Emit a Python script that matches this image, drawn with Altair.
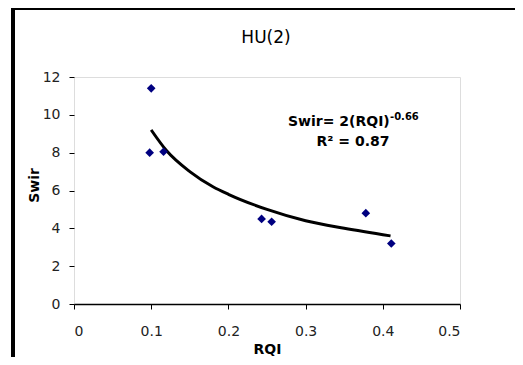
import altair as alt
import pandas as pd

# Measured points (RQI vs Swir)
rqi = [0.100, 0.098, 0.116, 0.243, 0.256, 0.378, 0.411]
swir = [11.4, 8.0, 8.05, 4.5, 4.35, 4.8, 3.2]

# Trend curve
trend_x = [0.100, 0.120, 0.150, 0.180, 0.200, 0.250, 0.300, 0.350, 0.410]
trend_y = [9.2, 8.1, 7.0, 6.2, 5.8, 5.0, 4.4, 4.0, 3.6]

x_ticks = [0, 0.1, 0.2, 0.3, 0.4, 0.5]
y_ticks = [0, 2, 4, 6, 8, 10, 12]

pts = pd.DataFrame({"RQI": rqi, "Swir": swir})
trend = pd.DataFrame({"RQI": trend_x, "Swir": trend_y})

FONT = "DejaVu Sans"

xscale = alt.Scale(domain=[0, 0.5], nice=False, zero=False)
yscale = alt.Scale(domain=[0, 12], nice=False)

xaxis = alt.Axis(values=x_ticks, format=".1~f", grid=False, domainColor="black",
                 domainWidth=1.5, tickColor="black", tickSize=5, labelPadding=15,
                 labelFontSize=14, labelColor="#222", labelFont=FONT, labelOverlap=False,
                 title="RQI", titleFont=FONT, titleFontSize=14, titleFontWeight="bold",
                 titleColor="black", titleY=49, titleBaseline="alphabetic")
yaxis = alt.Axis(values=y_ticks, grid=False, domain=False, tickColor="black",
                 tickSize=5, labelPadding=9, labelFontSize=14, labelColor="#222",
                 labelFont=FONT, labelOverlap=False, title="Swir", titleFont=FONT,
                 titleFontSize=14, titleFontWeight="bold", titleColor="black",
                 titleAngle=-90, titleX=-36, titleY=108, titleBaseline="alphabetic")

points = alt.Chart(pts).mark_point(shape="diamond", filled=True, size=75,
                                   color="#000080", opacity=1).encode(
    x=alt.X("RQI:Q", scale=xscale, axis=xaxis),
    y=alt.Y("Swir:Q", scale=yscale, axis=yaxis),
)

line = alt.Chart(trend).mark_line(color="black", strokeWidth=3,
                                  interpolate="monotone").encode(
    x=alt.X("RQI:Q", scale=xscale, axis=xaxis),
    y=alt.Y("Swir:Q", scale=yscale, axis=yaxis),
)

title = alt.Chart(pd.DataFrame({"t": ["HU(2)"]})).mark_text(
    font=FONT, fontSize=17, align="center", baseline="alphabetic",
    color="black").encode(text="t:N", x=alt.value(192), y=alt.value(-34))

eq_main = alt.Chart(pd.DataFrame({"t": ["Swir= 2(RQI)"]})).mark_text(
    font=FONT, fontSize=14, fontWeight="bold", align="left",
    baseline="alphabetic", color="black").encode(
    text="t:N", x=alt.value(214), y=alt.value(49))
eq_sup = alt.Chart(pd.DataFrame({"t": ["-0.66"]})).mark_text(
    font=FONT, fontSize=10, fontWeight="bold", align="left",
    baseline="alphabetic", color="black").encode(
    text="t:N", x=alt.value(316), y=alt.value(43))
eq_r2 = alt.Chart(pd.DataFrame({"t": ["R\u00b2 = 0.87"]})).mark_text(
    font=FONT, fontSize=14, fontWeight="bold", align="center",
    baseline="alphabetic", color="black").encode(
    text="t:N", x=alt.value(279), y=alt.value(69))

frame_left = alt.Chart(pd.DataFrame({"a": [0]})).mark_rule(
    color="black", strokeWidth=4).encode(
    x=alt.value(-61), y=alt.value(-71), y2=alt.value(300))
frame_top = alt.Chart(pd.DataFrame({"a": [0]})).mark_rule(
    color="black", strokeWidth=4).encode(
    x=alt.value(-63), x2=alt.value(460), y=alt.value(-69))

chart = alt.layer(line, points, title, eq_main, eq_sup, eq_r2, frame_left, frame_top).properties(
    width=386, height=227,
    autosize=alt.AutoSizeParams(type="none"),
    padding={"left": 66, "top": 69, "right": 55, "bottom": 53},
).configure_view(stroke="#808080", strokeWidth=2).configure(background="white")

chart.save("out.html", embed_options={"renderer": "svg", "actions": False})
